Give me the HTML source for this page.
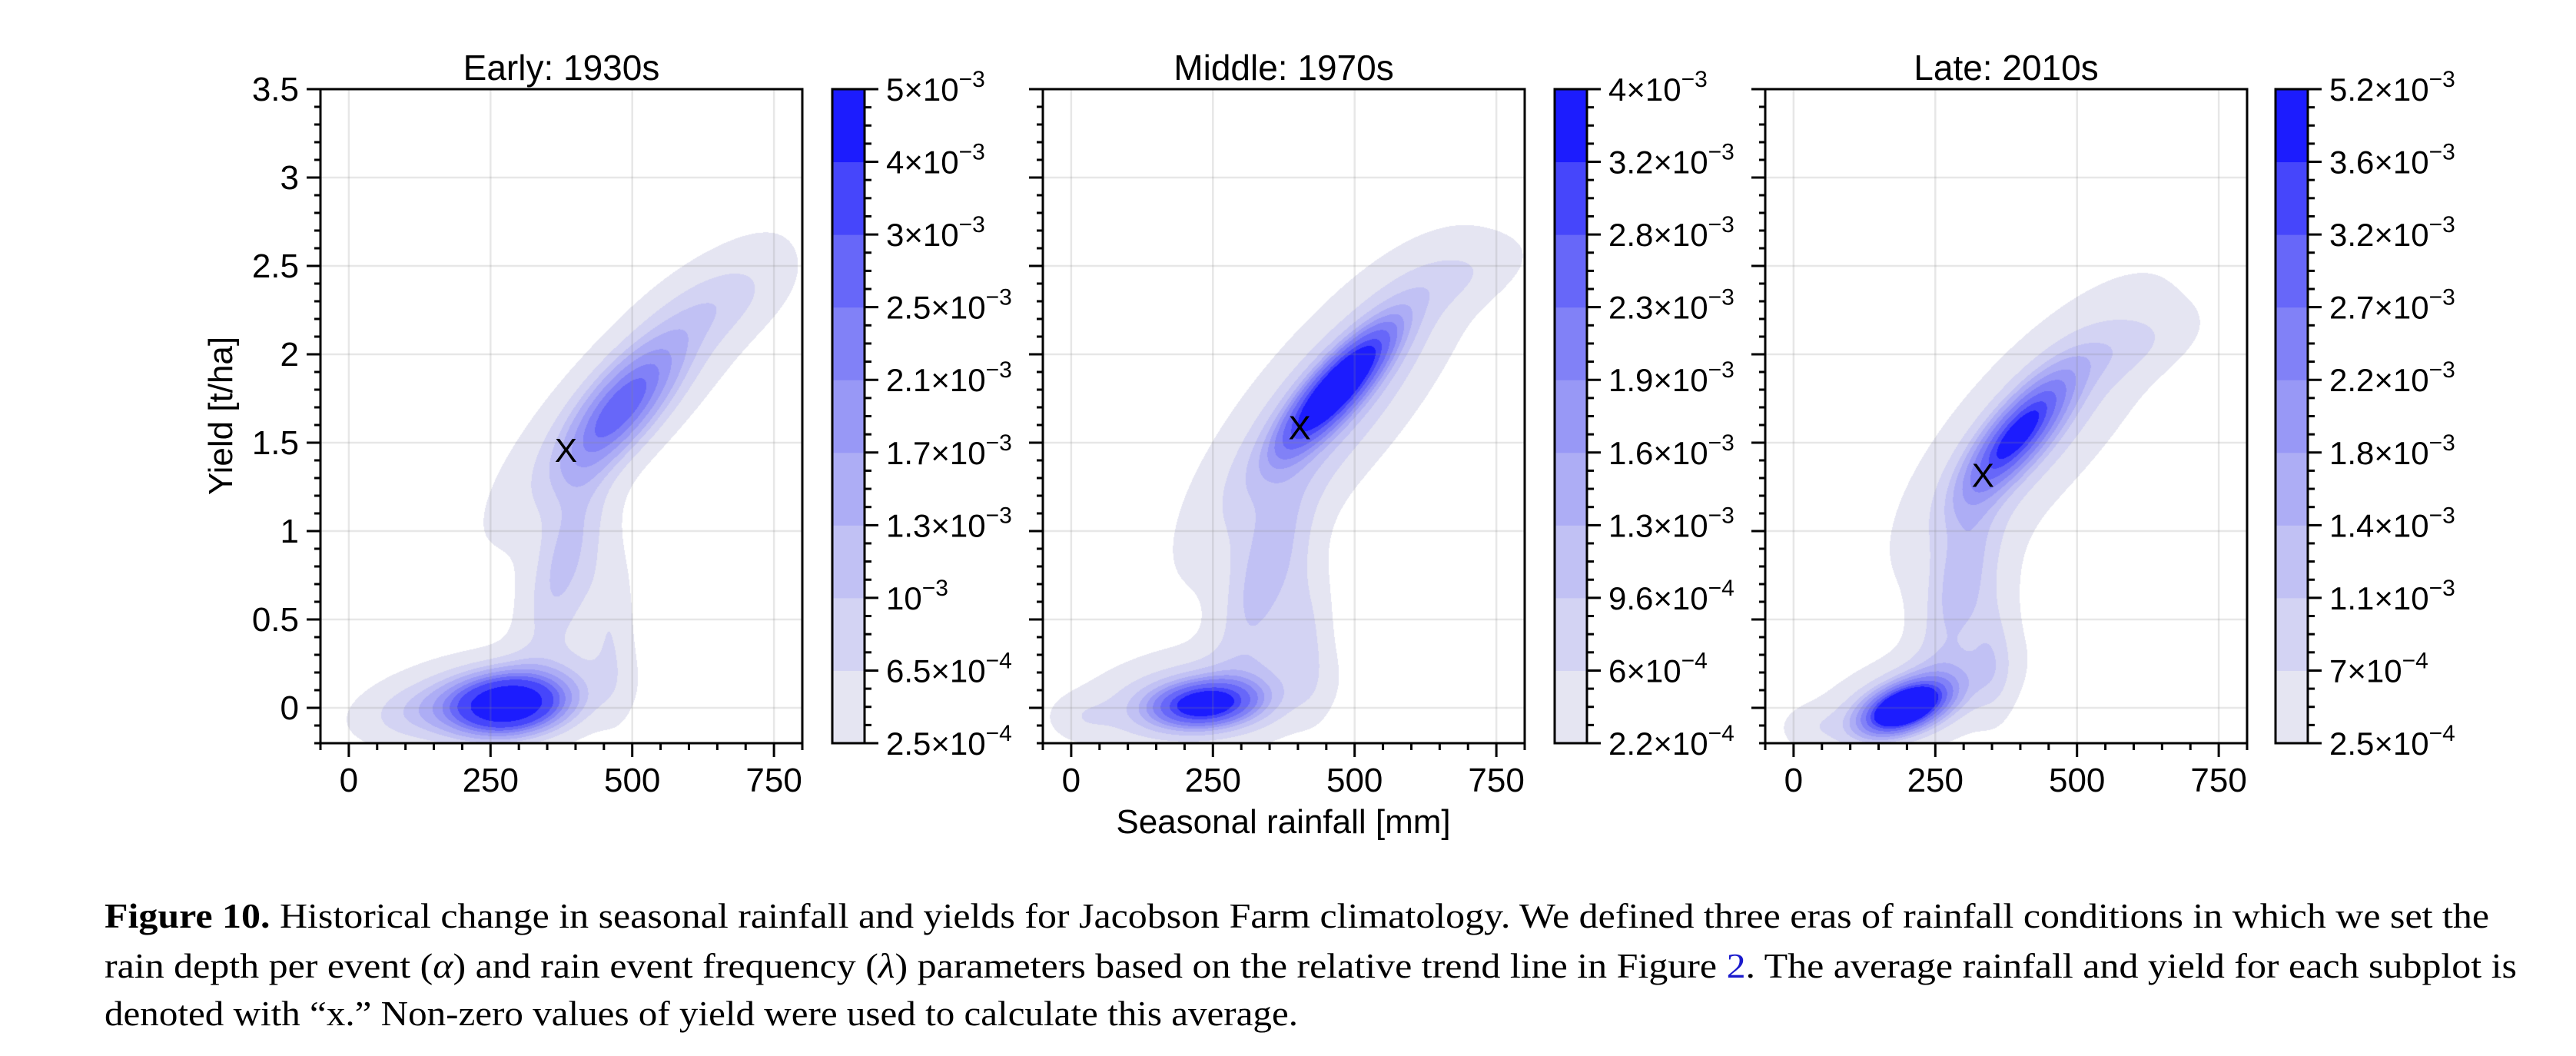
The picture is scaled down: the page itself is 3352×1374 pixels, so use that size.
<!DOCTYPE html>
<html><head><meta charset="utf-8">
<style>
html,body{margin:0;padding:0;background:#fff;}
#wrap{position:relative;width:3352px;height:1374px;overflow:hidden;background:#fff;}
canvas{position:absolute;}
svg{position:absolute;left:0;top:0;}
text{font-family:"Liberation Sans",sans-serif;fill:#000;}
.cap{font-family:"Liberation Serif",serif;font-size:46px;}
</style></head>
<body>
<div id="wrap">
<canvas id="c0"></canvas>
<canvas id="c1"></canvas>
<canvas id="c2"></canvas>
<svg id="svg" width="3352" height="1374">
<text class="cap" x="136" y="1207" textLength="3103" lengthAdjust="spacingAndGlyphs"><tspan font-weight="bold">Figure 10.</tspan>  Historical change in seasonal rainfall and yields for Jacobson Farm climatology. We defined three eras of rainfall conditions in which we set the</text>
<text class="cap" x="136" y="1272" textLength="3139" lengthAdjust="spacingAndGlyphs">rain depth per event (<tspan font-style="italic">α</tspan>) and rain event frequency (<tspan font-style="italic">λ</tspan>) parameters based on the relative trend line in Figure <tspan fill="#1a1acc">2</tspan>. The average rainfall and yield for each subplot is</text>
<text class="cap" x="136" y="1334" textLength="1553" lengthAdjust="spacingAndGlyphs">denoted with “x.” Non-zero values of yield were used to calculate this average.</text>
</svg>
</div>
<script>
// ---- data ----
const xTicks=[0,250,500,750];
const yTicks=[0,0.5,1,1.5,2,2.5,3,3.5];
const yTickLabels=["0","0.5","1","1.5","2","2.5","3","3.5"];
const panelTitles=["Early: 1930s","Middle: 1970s","Late: 2010s"];
const bandColors=["#e5e5f2","#d3d3f3","#c1c1f4","#adadf5","#9898f6","#8181f7","#6767f9","#4646fb","#1c1cfe"];
const earlyLevels=[2.5e-4,6.5e-4,1e-3,1.3e-3,1.7e-3,2.1e-3,2.5e-3,3e-3,4e-3,5e-3];
const middleLevels=[2.2e-4,6e-4,9.6e-4,1.3e-3,1.6e-3,1.9e-3,2.3e-3,2.8e-3,3.2e-3,4e-3];
const lateLevels=[2.5e-4,7e-4,1.1e-3,1.4e-3,1.8e-3,2.2e-3,2.7e-3,3.2e-3,3.6e-3,5.2e-3];
const earlyLabels=[["2.5","−4"],["6.5","−4"],["","−3"],["1.3","−3"],["1.7","−3"],["2.1","−3"],["2.5","−3"],["3","−3"],["4","−3"],["5","−3"]];
const middleLabels=[["2.2","−4"],["6","−4"],["9.6","−4"],["1.3","−3"],["1.6","−3"],["1.9","−3"],["2.3","−3"],["2.8","−3"],["3.2","−3"],["4","−3"]];
const lateLabels=[["2.5","−4"],["7","−4"],["1.1","−3"],["1.4","−3"],["1.8","−3"],["2.2","−3"],["2.7","−3"],["3.2","−3"],["3.6","−3"],["5.2","−3"]];
// mixture components: center rainfall, center yield, along-sigma, across-sigma, angle(deg), peak weight
const earlyCx=[280,250,110,480,500,380,465,660,400];
const earlyCy=[0.02,0.04,-0.02,1.7,1.8,0.85,0.4,2.3,0.6];
const earlySu=[0.25,0.5,0.28,0.38,0.9,0.45,0.4,0.35,0.5];
const earlySv=[0.13,0.2,0.13,0.15,0.25,0.14,0.1,0.17,0.25];
const earlyAng=[5,8,10,50,46,72,92,25,80];
const earlyW=[4.6e-3,1.3e-3,3.5e-4,2.0e-3,9e-4,8e-4,4e-4,3.5e-4,4e-4];
const middleCx=[470,450,235,220,340,690,420,20,360];
const middleCy=[1.82,1.7,0.02,0.05,0.75,2.45,0.4,-0.05,0.5];
const middleSu=[0.38,0.85,0.25,0.5,0.45,0.35,0.35,0.15,0.5];
const middleSv=[0.11,0.28,0.11,0.2,0.15,0.15,0.1,0.1,0.25];
const middleAng=[48,50,5,8,70,20,92,0,80];
const middleW=[3.6e-3,1.2e-3,2.9e-3,1.1e-3,8e-4,3.5e-4,4e-4,3e-4,4e-4];
const lateCx=[195,200,395,420,290,600,350,30,320];
const lateCy=[0.0,0.04,1.55,1.6,0.7,2.05,0.3,-0.1,0.5];
const lateSu=[0.2,0.42,0.35,0.8,0.45,0.35,0.3,0.15,0.5];
const lateSv=[0.1,0.18,0.12,0.28,0.15,0.15,0.1,0.1,0.25];
const lateAng=[22,20,50,48,75,20,92,0,80];
const lateW=[4.8e-3,1.3e-3,3e-3,1.1e-3,9e-4,4e-4,5e-4,3e-4,4e-4];
const meanX=[383,403,334];
const meanY=[1.46,1.59,1.32];

// ---- layout ----
const NS="http://www.w3.org/2000/svg";
const svg=document.getElementById('svg');
const panelLeft=[417,1357,2297], W=627, TOP=116, BOT=967, H=BOT-TOP;
const cbLeft=[1083,2023,2961], CBW=42;
const XMIN=-50,XMAX=800,YMIN=-0.2,YMAX=3.5;
function xs(p,v){return panelLeft[p]+(v-XMIN)/(XMAX-XMIN)*W;}
function ys(v){return BOT-(v-YMIN)/(YMAX-YMIN)*H;}
function mk(tag,attrs,parent){const e=document.createElementNS(NS,tag);for(const k in attrs)e.setAttribute(k,attrs[k]);(parent||svg).appendChild(e);return e;}

const comps=[[earlyCx,earlyCy,earlySu,earlySv,earlyAng,earlyW],[middleCx,middleCy,middleSu,middleSv,middleAng,middleW],[lateCx,lateCy,lateSu,lateSv,lateAng,lateW]];
const levels=[earlyLevels,middleLevels,lateLevels];
const labels=[earlyLabels,middleLabels,lateLabels];

function hex(c){return [parseInt(c.slice(1,3),16),parseInt(c.slice(3,5),16),parseInt(c.slice(5,7),16)];}
const rgb=bandColors.map(hex);

for(let p=0;p<3;p++){
  const cv=document.getElementById('c'+p);
  cv.width=W;cv.height=H;cv.style.left=panelLeft[p]+'px';cv.style.top=TOP+'px';
  const ctx=cv.getContext('2d');const img=ctx.createImageData(W,H);
  const [cx,cy,su,sv,an,w]=comps[p];const lv=levels[p];
  const cs=an.map(a=>Math.cos(a*Math.PI/180)), sn=an.map(a=>Math.sin(a*Math.PI/180));
  for(let j=0;j<H;j++){
    const yv=YMIN+(BOT-(TOP+j))/H*(YMAX-YMIN);
    for(let i=0;i<W;i++){
      const xv=XMIN+i/W*(XMAX-XMIN);
      let d=0;
      for(let k=0;k<cx.length;k++){
        const dx=(xv-cx[k])/250, dy=(yv-cy[k])/0.8;
        const a=dx*cs[k]+dy*sn[k], b=-dx*sn[k]+dy*cs[k];
        d+=w[k]*Math.exp(-0.5*(a*a/(su[k]*su[k])+b*b/(sv[k]*sv[k])));
      }
      const o=(j*W+i)*4;
      let band=-1;
      for(let m=0;m<9;m++) if(d>=lv[m]) band=m;
      if(band<0){img.data[o]=255;img.data[o+1]=255;img.data[o+2]=255;}
      else{const c=rgb[band];img.data[o]=c[0];img.data[o+1]=c[1];img.data[o+2]=c[2];}
      img.data[o+3]=255;
    }
  }
  ctx.putImageData(img,0,0);

  for(const t of xTicks){
    const g=mk('line',{x1:xs(p,t),x2:xs(p,t),y1:TOP,y2:BOT,stroke:'#888','stroke-opacity':0.2,'stroke-width':2.5});
    
    
  }
  for(const t of yTicks){
    const g=mk('line',{x1:panelLeft[p],x2:panelLeft[p]+W,y1:ys(t),y2:ys(t),stroke:'#888','stroke-opacity':0.2,'stroke-width':2.5});
    
    
  }
  const fr=mk('rect',{x:panelLeft[p],y:TOP,width:W,height:H,fill:'none',stroke:'#000','stroke-width':3});
  
  
  for(let v=-50;v<=800;v+=50){
    const major=xTicks.includes(v);
    const t=mk('line',{x1:xs(p,v),x2:xs(p,v),y1:BOT,y2:BOT+(major?18:9),stroke:'#000','stroke-width':3});
    
    
  }
  for(const v of xTicks){
    const t=mk('text',{x:xs(p,v),y:1030,'font-size':44,'text-anchor':'middle'});t.textContent=String(v);
    
    
  }
  for(let k=-2;k<=35;k++){
    const v=k/10;const major=(k%5===0);
    const t=mk('line',{x1:panelLeft[p]-(major?18:8),x2:panelLeft[p],y1:ys(v),y2:ys(v),stroke:'#000','stroke-width':3});
    
    
  }
  if(p===0){
    yTicks.forEach((v,i)=>{
      const t=mk('text',{x:389,y:ys(v)+15,'font-size':44,'text-anchor':'end'});t.textContent=yTickLabels[i];
      
      
    });
  }
  const tt=mk('text',{x:panelLeft[p]+W/2,y:104,'font-size':46,'text-anchor':'middle'});tt.textContent=panelTitles[p];
  
  
  const mx=mk('text',{x:xs(p,meanX[p]),y:ys(meanY[p])+16,'font-size':44,'text-anchor':'middle'});mx.textContent='X';
  
  

  const cbH=H/9;
  for(let m=0;m<9;m++){
    const r=mk('rect',{x:cbLeft[p],y:BOT-(m+1)*cbH,width:CBW,height:cbH+0.5,fill:bandColors[m]});
    
    
  }
  const cf=mk('rect',{x:cbLeft[p],y:TOP,width:CBW,height:H,fill:'none',stroke:'#000','stroke-width':3});
  
  
  for(let m=0;m<=36;m++){
    const major=(m%4===0);const yy=BOT-m*cbH/4;
    const t=mk('line',{x1:cbLeft[p]+CBW,x2:cbLeft[p]+CBW+(major?18:9),y1:yy,y2:yy,stroke:'#000','stroke-width':3});
    
    
  }
  labels[p].forEach((lb,m)=>{
    const yy=BOT-m*cbH+15;
    const t=mk('text',{x:cbLeft[p]+CBW+28,y:yy,'font-size':42});
    
    
    t.appendChild(document.createTextNode((lb[0]?lb[0]+'×':'')+'10'));
    const s=document.createElementNS(NS,'tspan');s.setAttribute('dy','-18');s.setAttribute('font-size','30');s.textContent=lb[1];
    t.appendChild(s);
  });
}
const yl=mk('text',{x:0,y:0,'font-size':44,'text-anchor':'middle',transform:'translate(302,541) rotate(-90)'});yl.textContent='Yield [t/ha]';


const xl=mk('text',{x:1670,y:1084,'font-size':44,'text-anchor':'middle'});xl.textContent='Seasonal rainfall [mm]';


</script>
</body></html>
